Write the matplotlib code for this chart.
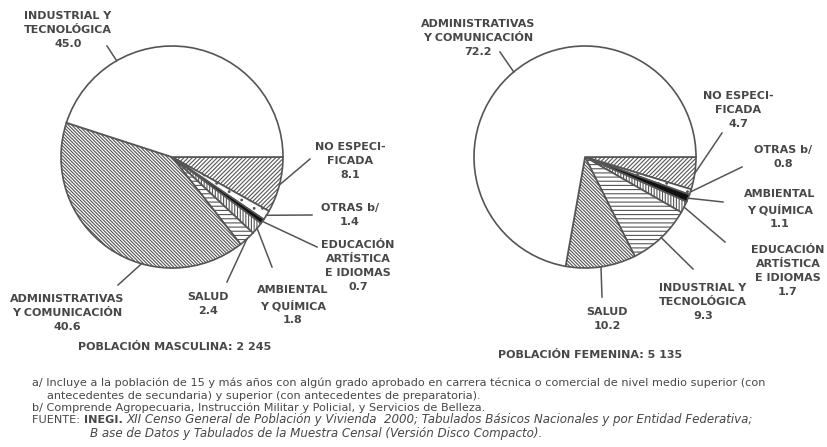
import numpy as np
import matplotlib.pyplot as plt

plt.rcParams['font.family'] = ['DejaVu Sans']
plt.rcParams['hatch.linewidth'] = 0.8

# data: slices go clockwise from 3 o'clock
left_labels = ["NO ESPECI-\nFICADA", "OTRAS b/", "EDUCACIÓN\nARTÍSTICA\nE IDIOMAS",
               "AMBIENTAL\nY QUÍMICA", "SALUD", "ADMINISTRATIVAS\nY COMUNICACIÓN",
               "INDUSTRIAL Y\nTECNOLÓGICA"]
left_values = [8.1, 1.4, 0.7, 1.8, 2.4, 40.6, 45.0]

right_labels = ["NO ESPECI-\nFICADA", "OTRAS b/", "AMBIENTAL\nY QUÍMICA",
                "EDUCACIÓN\nARTÍSTICA\nE IDIOMAS", "INDUSTRIAL Y\nTECNOLÓGICA", "SALUD",
                "ADMINISTRATIVAS\nY COMUNICACIÓN"]
right_values = [4.7, 0.8, 1.1, 1.7, 9.3, 10.2, 72.2]

left_title = "POBLACIÓN MASCULINA: 2 245"
right_title = "POBLACIÓN FEMENINA: 5 135"

notes = [
    "a/ Incluye a la población de 15 y más años con algún grado aprobado en carrera técnica o comercial de nivel medio superior (con",
    "antecedentes de secundaria) y superior (con antecedentes de preparatoria).",
    "b/ Comprende Agropecuaria, Instrucción Militar y Policial, y Servicios de Belleza.",
]
source_1 = "XII Censo General de Población y Vivienda  2000; Tabulados Básicos Nacionales y por Entidad Federativa;"
source_2 = "B ase de Datos y Tabulados de la Muestra Censal (Versión Disco Compacto)."

# styling by slice position
fills = ['white', 'white', '#111111', 'white', 'white', 'white', 'white']
hatches = ['////////', '..', None, '||||||', '----', '\\' * 10, None]

# layout (pixel coords)
left_center, right_center, R = (172, 157), (585, 157), 111
left_txt = [(350, 161), (350, 215), (358, 266), (293, 305), (208, 304), (67, 313), (68, 30)]
left_end = [(310, 159), (312, 215), (317, 247), (272, 267), (227, 282), (118, 285), (107, 46)]
left_frac = [0.5, 0.5, 0.5, 0.5, 0.5, 0.37, 0.26]
right_txt = [(738, 110), (783, 157), (780, 209), (788, 271), (703, 302), (607, 319), (478, 38)]
right_end = [(722, 133), (742, 167), (723, 202), (725, 242), (693, 269), (602, 297), (500, 52)]
right_frac = [0.5] * 7

TXT = '#474747'
EDGE = '#555555'
LFS = 8.0

fig = plt.figure(figsize=(8.27, 4.47), dpi=100)
ax = fig.add_axes([0, 0, 1, 1])


def draw_pie(values, labels, center, txt, ends, fracs):
    wedges, _ = ax.pie(values, center=center, radius=R, startangle=0, counterclock=True,
                       frame=True,
                       wedgeprops=dict(edgecolor=EDGE, linewidth=1.2))
    for i, w in enumerate(wedges):
        w.set_facecolor(fills[i])
        if hatches[i]:
            w.set_hatch(hatches[i])
        th = np.deg2rad(w.theta1 + fracs[i] * (w.theta2 - w.theta1))
        px = center[0] + R * np.cos(th)
        py = center[1] + R * np.sin(th)
        ax.plot([px, ends[i][0]], [py, ends[i][1]], color=EDGE, lw=1.1)
        ax.text(txt[i][0], txt[i][1], f"{labels[i]}\n{values[i]:.1f}", ha='center', va='center',
                multialignment='center', fontsize=LFS, color=TXT, linespacing=1.5,
                fontweight='bold')


draw_pie(left_values, left_labels, left_center, left_txt, left_end, left_frac)
draw_pie(right_values, right_labels, right_center, right_txt, right_end, right_frac)

ax.set_xlim(0, 827)
ax.set_ylim(447, 0)
ax.set_aspect('auto')
ax.axis('off')

ax.text(175, 347, left_title, ha='center', va='center', fontsize=LFS, color=TXT, fontweight='bold')
ax.text(590, 355, right_title, ha='center', va='center', fontsize=LFS, color=TXT, fontweight='bold')

fs = 8.1
ifs = 8.6
ax.text(32, 383, notes[0], fontsize=fs, color=TXT, va='center')
ax.text(47, 396, notes[1], fontsize=fs, color=TXT, va='center')
ax.text(32, 408, notes[2], fontsize=fs, color=TXT, va='center')
t = ax.text(32, 420, "FUENTE: ", fontsize=fs, color=TXT, va='center')
t = ax.annotate("INEGI. ", xy=(1, 0.5), xycoords=t, va='center', fontsize=fs, color=TXT,
                fontweight='bold')
ax.annotate(source_1, xy=(1, 0.5), xycoords=t, va='center', fontsize=ifs, color=TXT,
            fontstyle='italic')
ax.text(90, 433, source_2, fontsize=ifs, color=TXT, va='center', fontstyle='italic')

fig.savefig('out.png', dpi=100)
